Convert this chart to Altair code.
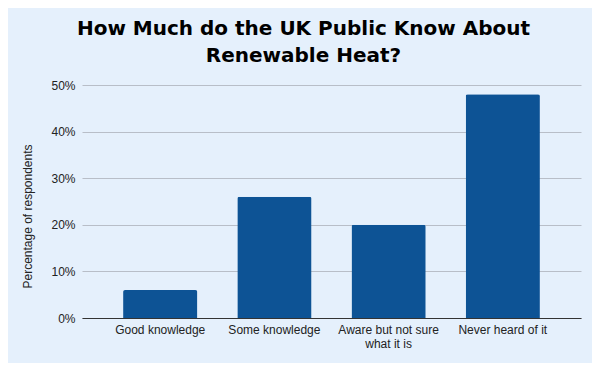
import altair as alt
import pandas as pd

categories = ["Good knowledge", "Some knowledge", "Aware but not sure what it is", "Never heard of it"]
values = [0.06, 0.26, 0.20, 0.48]

df = pd.DataFrame({"category": categories, "value": values})

BG = "#e5f0fc"

chart = alt.Chart(df).mark_bar(
    color="#0d5395", cornerRadiusTopLeft=2, cornerRadiusTopRight=2
).encode(
    x=alt.X(
        "category:N",
        sort=categories,
        title=None,
        scale=alt.Scale(paddingInner=0.35, paddingOuter=0.36),
        axis=alt.Axis(
            labelAngle=0,
            labelFont="Liberation Sans",
            labelFontSize=12,
            labelColor="#222222",
            labelPadding=6,
            labelLineHeight=14,
            labelExpr="datum.label == 'Aware but not sure what it is' ? ['Aware but not sure', 'what it is'] : datum.label",
            ticks=False,
            domainColor="#333333",
            domainWidth=1.2,
            grid=False,
        ),
    ),
    y=alt.Y(
        "value:Q",
        title="Percentage of respondents",
        scale=alt.Scale(domain=[0, 0.5]),
        axis=alt.Axis(
            format=".0%",
            values=[0, 0.1, 0.2, 0.3, 0.4, 0.5],
            labelFont="Liberation Sans",
            labelFontSize=12,
            labelColor="#222222",
            labelPadding=7,
            ticks=False,
            domain=False,
            gridColor="#b8bec8",
            gridWidth=1,
            titleFont="Liberation Sans",
            titleFontSize=12,
            titleFontWeight="normal",
            titleColor="#222222",
            titleAngle=270,
            titleAlign="center",
            titleBaseline="middle",
            titleX=-55,
            titleY=131,
        ),
    ),
).properties(
    width=499,
    height=233,
    title=alt.TitleParams(
        text=["How Much do the UK Public Know About", "Renewable Heat?"],
        font="DejaVu Sans",
        fontSize=20,
        fontWeight="bold",
        color="#000000",
        anchor="middle",
        dx=-28,
        dy=25,
        lineHeight=27,
        offset=22,
        baseline="alphabetic",
    ),
    background=BG,
    padding={"left": 74, "top": 77, "right": 11, "bottom": 45},
    autosize=alt.AutoSizeParams(type="none"),
).configure_view(stroke=None)

chart.save("out.html", embed_options={"renderer": "svg", "actions": False})
